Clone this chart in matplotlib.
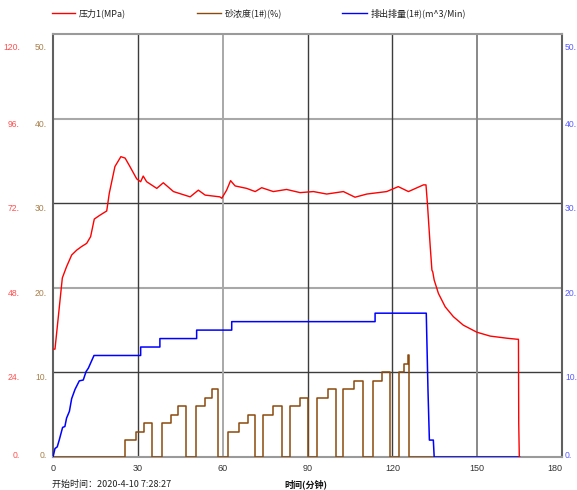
import matplotlib
matplotlib.use("Agg")
import matplotlib.pyplot as plt
import matplotlib.transforms as mtransforms
from matplotlib.lines import Line2D

plt.rcParams['font.family'] = ['Noto Sans CJK SC', 'DejaVu Sans']

# pressure 1 (MPa), left axis 0-120
p_time = [0, 0.7, 3.3, 4.8, 6.6, 8.4, 10.1, 11.9, 13.3, 14.6, 16.6, 19.0, 19.9, 21.9, 24.0,
          25.5, 27.2, 29.6, 31.0, 31.9, 33.1, 36.7, 39.0, 42.6, 48.5, 51.4, 53.8, 59.0, 59.7,
          61.4, 62.8, 64.4, 68.5, 71.5, 73.8, 77.9, 82.6, 87.4, 92.1, 96.8, 102.7, 106.8,
          111.0, 118.0, 122.1, 125.7, 131.0, 131.9, 132.4, 133.4, 134.0, 134.3, 134.8, 136.3,
          138.7, 141.6, 145.1, 149.9, 154.6, 160.5, 164.2, 164.6, 164.7, 164.9]
pressure = [30.6, 30.6, 50.8, 54.0, 57.3, 58.7, 59.7, 60.6, 62.5, 67.5, 68.6, 69.8, 74.8, 82.4,
            85.2, 84.8, 82.4, 78.9, 78.1, 79.7, 78.1, 76.2, 77.8, 75.3, 73.8, 75.7, 74.3, 73.8,
            73.4, 75.7, 78.4, 76.9, 76.2, 75.3, 76.4, 75.3, 75.9, 75.0, 75.3, 74.6, 75.3, 73.7,
            74.6, 75.3, 76.7, 75.3, 77.2, 77.2, 72.0, 59.7, 53.0, 52.5, 50.2, 46.4, 42.6, 39.8,
            37.4, 35.4, 34.3, 33.7, 33.4, 33.4, 9.6, 0]

# sand concentration (%), steps
s_time = [0, 25.3, 29.4, 32.3, 35.1, 38.5, 41.6, 44.3, 47.1, 50.6, 53.8, 56.2, 58.5, 61.8,
          65.8, 69.1, 71.5, 74.4, 77.7, 80.9, 83.8, 87.4, 90.1, 93.5, 97.2, 100.1, 102.5,
          106.5, 109.5, 113.1, 116.3, 119.2, 122.5, 124.3, 125.7, 126.0, 134.6]
sand = [0, 2, 3, 4, 0, 4, 5, 6, 0, 6, 7, 8, 0, 3, 4, 5, 0, 5, 6, 0, 6, 7, 0, 7, 8, 0, 8, 9,
        0, 9, 10, 0, 10, 11, 12, 0, 0]

# discharge rate (m^3/min)
q_time = [0, 0.7, 1.5, 2.2, 3.4, 4.2, 4.8, 5.8, 6.6, 7.8, 9.3, 10.7, 11.7, 12.5, 13.3, 14.5,
          31.0, 31.0, 37.8, 37.8, 50.8, 50.8, 63.2, 63.2, 113.9, 113.9, 132.0, 132.6, 133.1,
          134.5, 134.8, 165.0]
rate = [0, 1.0, 1.2, 2.0, 3.5, 3.6, 4.6, 5.4, 6.9, 8.0, 9.0, 9.1, 10.1, 10.5, 11.1, 12.0,
        12.0, 13.0, 13.0, 14.0, 14.0, 15.0, 15.0, 16.0, 16.0, 17.0, 17.0, 8.0, 2.0, 2.0, 0, 0]

x_ticks = [0, 30, 60, 90, 120, 150, 180]
mid_ticks = [0, 10, 20, 30, 40, 50]
left_ticks = ['0.', '24.', '48.', '72.', '96.', '120.']
mid_labels = ['0.', '10.', '20.', '30.', '40.', '50.']

RED = '#ff0000'
BROWN = '#8b4a0c'
BLUE = '#0000ff'
TICKFONT = 'Liberation Sans'

fig = plt.figure(figsize=(5.77, 4.90), dpi=100)
ax = fig.add_axes([53 / 577, 1 - 457 / 490, 509 / 577, 423 / 490])
ax.set_xlim(0, 180)
ax.set_ylim(0, 50)
axp = ax.twinx()
axp.set_ylim(0, 120)

for a in (ax, axp):
    a.set_xticks([])
    a.set_yticks([])
    for s in a.spines.values():
        s.set_visible(False)
ax.set_zorder(2)
axp.set_zorder(3)
ax.patch.set_visible(False)

# grid
dark = '#3c3c3c'
gray = '#a8a8a8'
for v, c in [(10, dark), (20, gray), (30, dark), (40, gray)]:
    ax.axhline(v, color=c, lw=1.0 if c == dark else 1.5, zorder=1)
for v, c in [(30, dark), (60, gray), (90, dark), (120, dark), (150, '#888888')]:
    ax.axvline(v, color=c, lw=1.0 if c == dark else 1.4, zorder=1)
for spine, c in [('left', '#606060'), ('right', '#606060'), ('top', '#9a9a9a'), ('bottom', '#9a9a9a')]:
    ax.spines[spine].set_visible(True)
    ax.spines[spine].set_color(c)
    ax.spines[spine].set_linewidth(1.5)

ax.plot(s_time, sand, color=BROWN, lw=1.1, drawstyle='steps-post', zorder=3)
ax.plot(q_time, rate, color=BLUE, lw=1.1, zorder=4)
axp.plot(p_time, pressure, color=RED, lw=1.0, zorder=5)

# y tick labels
def offset(dy):
    return mtransforms.ScaledTranslation(0, dy / 100, fig.dpi_scale_trans)

for i, v in enumerate(mid_ticks):
    dy = -5.5
    if v == 50:
        dy = -13
    elif v == 0:
        dy = 2
    tl = mtransforms.blended_transform_factory(fig.transFigure, ax.transData) + offset(dy)
    fig.text(20 / 577, v, left_ticks[i], transform=tl, ha='right', va='center',
             fontsize=6.2, color='#ff5050', family=TICKFONT)
    fig.text(47 / 577, v, mid_labels[i], transform=tl, ha='right', va='center',
             fontsize=6.2, color='#a8804c', family=TICKFONT)
    fig.text(565 / 577, v, mid_labels[i], transform=tl, ha='left', va='center',
             fontsize=6.2, color='#5a5aff', family=TICKFONT)

# x tick labels
for v in x_ticks:
    ax.text(v, -0.028, str(v), transform=ax.get_xaxis_transform(),
            ha='right' if v == 180 else 'center', va='center', fontsize=6.5,
            color='#333333', family=TICKFONT)

fig.text(52 / 577, 1 - 484 / 490, '开始时间：2020-4-10 7:28:27', ha='left', va='center',
         fontsize=6.5, color='#222222')
fig.text(306 / 577, 1 - 484 / 490, '时间(分钟)', ha='center', va='center',
         fontsize=6.5, color='#111111', fontweight='bold')

# legend
legend_items = [(RED, '压力1(MPa)', 52, 75), (BROWN, '砂浓度(1#)(%)', 197, 221),
                (BLUE, '排出排量(1#)(m^3/Min)', 342, 367)]
for c, label, x0, x1 in legend_items:
    fig.add_artist(Line2D([x0 / 577, x1 / 577], [1 - 13 / 490] * 2, color=c, lw=1.0,
                          transform=fig.transFigure))
    fig.text((x1 + 4) / 577, 1 - 13 / 490, label, ha='left', va='center', fontsize=6.5,
             color='#222222')

fig.savefig('out.png', dpi=100)
